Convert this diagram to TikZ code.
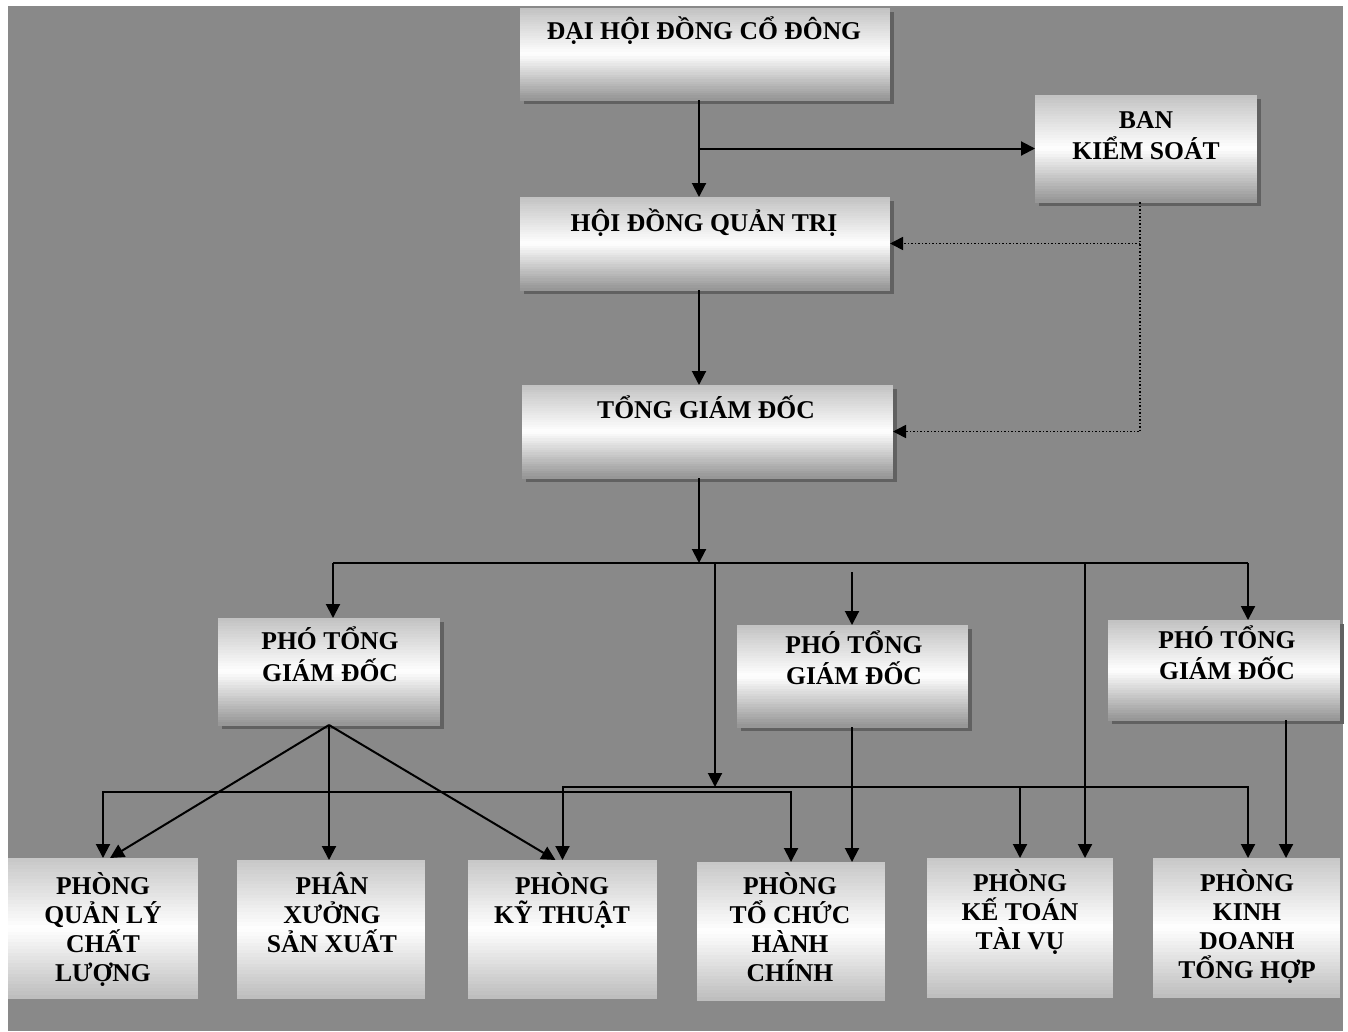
\documentclass[tikz,border=0pt]{standalone}
\usepackage{fontspec}
\setmainfont{Liberation Serif}
\usetikzlibrary{arrows.meta,shadows,calc}
\definecolor{bgc}{RGB}{137,137,137}
\colorlet{hitop}{black!24}
\colorlet{hibot}{black!42}
\colorlet{lotop}{black!22}
\colorlet{lobot}{black!26}
\newcommand\stk[1]{\begin{tabular}[t]{@{}c@{}}#1\end{tabular}}
\tikzset{
  grad/.style 2 args={path picture={
    \foreach \i in {0,...,39}{
      \ifnum\i<20 \colorlet{cc}{#1}\pgfmathsetmacro\p{(\i+0.5)*5}%
      \else \colorlet{cc}{#2}\pgfmathsetmacro\p{(39.5-\i)*5}\fi
      \pgfmathsetmacro\ta{\i/40}%
      \pgfmathsetmacro\tb{(\i+1.3)/40}%
      \fill[white!\p!cc] ($(path picture bounding box.north west)!\ta!(path picture bounding box.south west)$)
        rectangle ($(path picture bounding box.north east)!\tb!(path picture bounding box.south east)$);
    }}},
  hibox/.style={grad={hitop}{hibot},
    inner sep=0pt, outer sep=0pt, anchor=north west,
    drop shadow={shadow xshift=4pt, shadow yshift=-4pt, fill=black!62, opacity=1}},
  lobox/.style={grad={lotop}{lobot},
    inner sep=0pt, outer sep=0pt, anchor=north west},
  lbl/.style={anchor=base, inner sep=0pt, font=\fontsize{25.6}{#1}\selectfont\bfseries},
  lbl/.default=29,
  ln/.style={line width=2pt, black},
  arr/.style={ln, -{Triangle[length=14pt,width=14pt]}},
  arrtwo/.style={ln, {Triangle[length=14pt,width=14pt]}-{Triangle[length=14pt,width=14pt]}},
  dotl/.style={line width=1.6pt, black, dash pattern=on 1.5pt off 2pt, -{Triangle[length=13pt,width=13pt]}},
}
\begin{document}
\begin{tikzpicture}[x=1pt,y=-1pt]
\useasboundingbox (0,0) rectangle (1348,1031);
\fill[white] (0,0) rectangle (1348,1031);
\fill[bgc] (8,6) rectangle (1343,1031);

% boxes
\node[hibox, minimum width=370pt, minimum height=92pt] (dhd) at (520,8) {};
\node[hibox, minimum width=222pt, minimum height=107pt] (bks) at (1035,95) {};
\node[hibox, minimum width=370pt, minimum height=93pt] (hdqt) at (520,197) {};
\node[hibox, minimum width=371pt, minimum height=93pt] (tgd) at (522,385) {};
\node[hibox, minimum width=222pt, minimum height=107pt] (p1) at (218,618) {};
\node[hibox, minimum width=231pt, minimum height=102pt] (p2) at (737,625) {};
\node[hibox, minimum width=232pt, minimum height=100pt] (p3) at (1108,620) {};
\node[lobox, minimum width=190pt, minimum height=140pt] (b1) at (8,858) {};
\node[lobox, minimum width=188pt, minimum height=138pt] (b2) at (237,860) {};
\node[lobox, minimum width=189pt, minimum height=138pt] (b3) at (468,860) {};
\node[lobox, minimum width=188pt, minimum height=138pt] (b4) at (697,862) {};
\node[lobox, minimum width=186pt, minimum height=139pt] (b5) at (927,858) {};
\node[lobox, minimum width=187pt, minimum height=139pt] (b6) at (1153,858) {};

% labels
\node[lbl] (dhdt) at (704,39) {ĐẠI HỘI ĐỒNG CỔ ĐÔNG};
\node[lbl=31] (bkst) at (1146,128) {\stk{\smash{BAN}\\\smash{KIỂM SOÁT}}};
\node[lbl] (hdqtt) at (704,231) {HỘI ĐỒNG QUẢN TRỊ};
\node[lbl] (tgdt) at (706,418) {TỔNG GIÁM ĐỐC};
\node[lbl=32] (p1t) at (330,649) {\stk{\smash{PHÓ TỔNG}\\\smash{GIÁM ĐỐC}}};
\node[lbl=31] (p2t) at (854,653) {\stk{\smash{PHÓ TỔNG}\\\smash{GIÁM ĐỐC}}};
\node[lbl=31] (p3t) at (1227,648) {\stk{\smash{PHÓ TỔNG}\\\smash{GIÁM ĐỐC}}};
\node[lbl] (b1t) at (103,894) {\stk{\smash{PHÒNG}\\\smash{QUẢN LÝ}\\\smash{CHẤT}\\\smash{LƯỢNG}}};
\node[lbl] (b2t) at (332,894) {\stk{\smash{PHÂN}\\\smash{XƯỞNG}\\\smash{SẢN XUẤT}}};
\node[lbl] (b3t) at (562,894) {\stk{\smash{PHÒNG}\\\smash{KỸ THUẬT}}};
\node[lbl] (b4t) at (790,894) {\stk{\smash{PHÒNG}\\\smash{TỔ CHỨC}\\\smash{HÀNH}\\\smash{CHÍNH}}};
\node[lbl] (b5t) at (1020,891) {\stk{\smash{PHÒNG}\\\smash{KẾ TOÁN}\\\smash{TÀI VỤ}}};
\node[lbl] (b6t) at (1247,891) {\stk{\smash{PHÒNG}\\\smash{KINH}\\\smash{DOANH}\\\smash{TỔNG HỢP}}};

% helper coordinates
\coordinate (tr) at (699,0);
\coordinate (dx) at (1140,0);
\coordinate (busL) at (333,563);
\coordinate (busR) at (1248,563);
\coordinate (m1) at (715,563);
\coordinate (m2) at (1085,563);
\coordinate (s2) at (852,572);
\coordinate (lbA) at (400,792);
\coordinate (lbB) at (900,787);
\coordinate (d3) at (1286,0);

% top connectors
\draw[arr] (dhd.south -| tr) -- (hdqt.north -| tr);
\draw[arr] (bks.west -| tr) -- (bks.west);
\draw[arr] (hdqt.south -| tr) -- (tgd.north -| tr);
\draw[dotl] (bks.south -| dx) |- (tgd.east);
\draw[dotl] (hdqt.east -| dx) -- (hdqt.east);
\draw[arr] (tgd.south -| tr) -- (busL -| tr);

% bus
\draw[ln] (busL) -- (busR);
\draw[arr] (busL) -- (p1.north -| busL);
\draw[arr] (busR) -- (p3.north -| busR);
\draw[arr] (s2) -- (p2.north -| s2);
\draw[arr] (m1) -- (lbB -| m1);
\draw[arr] (m2) -- (b5.north -| m2);

% fan from p1
\draw[arr] (p1.south) -- ($(b1.north)+(7,0)$);
\draw[arr] (p1.south) -- (b2.north -| p1.south);
\draw[arr] (p1.south) -- ($(b3.north)+(-7,0)$);

% lower buses
\draw[arrtwo] (b1.north) |- (lbA) -| (b4.north);
\draw[arrtwo] (b3.north) |- (lbB) -| (b6.north -| busR);
\draw[arr] (b5.north |- lbB) -- (b5.north);

% direct drops
\draw[arr] (p2.south -| s2) -- (b4.north -| s2);
\draw[arr] (p3.south -| d3) -- (b6.north -| d3);
\end{tikzpicture}
\end{document}
